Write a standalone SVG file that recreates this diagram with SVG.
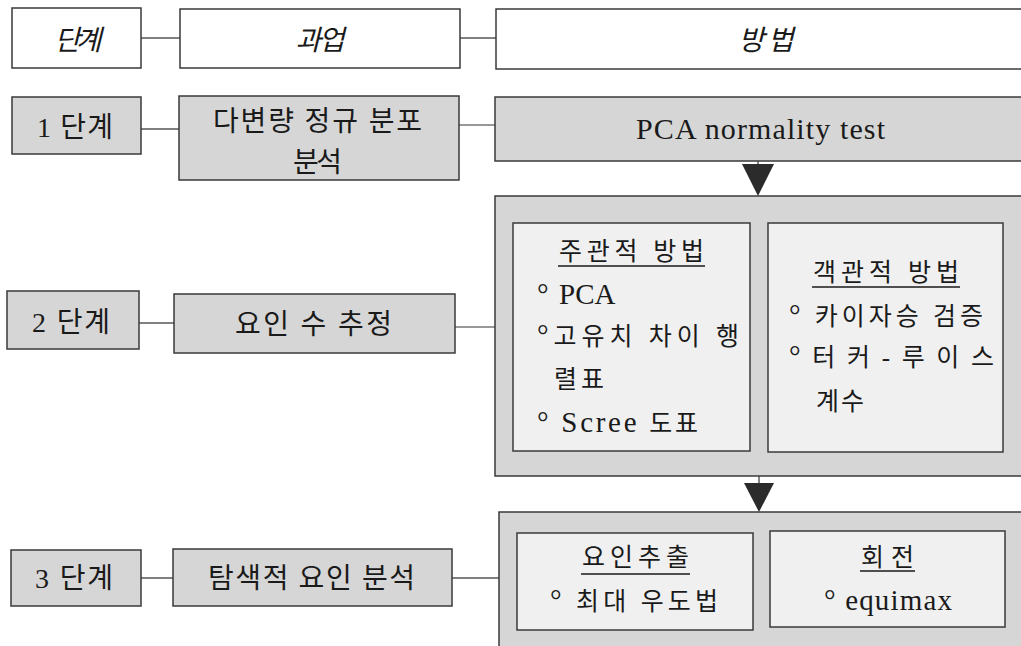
<svg xmlns="http://www.w3.org/2000/svg" width="1021" height="646" viewBox="0 0 1021 646">
<style>
.hdr{fill:#ffffff;stroke:#3a3a3a;stroke-width:1.5}
.box{fill:#d6d6d6;stroke:#3a3a3a;stroke-width:1.5}
.inner{fill:#f0f0f0;stroke:#3a3a3a;stroke-width:1.5}
.t{font-family:"Liberation Serif","Noto Sans CJK KR",serif;fill:#1a1a1a}
.hi{font-size:28px;font-style:italic;text-anchor:middle}
.lc{font-size:28px}
.in{font-size:25px}
.lat{font-size:29px}
.ul{stroke:#1a1a1a;stroke-width:1.3}
.cg{stroke:#808080;stroke-width:2;fill:none}
.cd{stroke:#333333;stroke-width:1.2;fill:none}
.arr{fill:#2b2b2b}
</style>
<g id="connectors">
<line class="cg" x1="141" y1="38" x2="180" y2="38"/>
<line class="cg" x1="460" y1="38" x2="496" y2="38"/>
<line class="cg" x1="141" y1="129" x2="179" y2="129"/>
<line class="cd" x1="459" y1="125" x2="495" y2="125"/>
<line class="cg" x1="139" y1="323" x2="174" y2="323"/>
<line class="cd" x1="455" y1="327" x2="495" y2="327"/>
<line class="cg" x1="141" y1="578" x2="173" y2="578"/>
<line class="cg" x1="452" y1="578" x2="499" y2="578"/>
<line class="cd" x1="758" y1="161" x2="758" y2="165"/>
<polygon class="arr" points="742,164 774,164 758,196"/>
<line class="cd" x1="759" y1="476" x2="759" y2="484"/>
<polygon class="arr" points="744,483 774,483 759,512"/>
</g>
<g id="hdr-step">
<rect class="hdr" x="12" y="8" width="129" height="60"/>
<text class="t hi" x="78" y="50" textLength="47">단계</text>
</g>
<g id="hdr-task">
<rect class="hdr" x="180" y="9" width="280" height="59"/>
<text class="t hi" x="320" y="50" textLength="49">과업</text>
</g>
<g id="hdr-method">
<rect class="hdr" x="496" y="9" width="540" height="60"/>
<text class="t hi" x="766" y="50" textLength="55">방법</text>
</g>
<g id="step1">
<rect class="box" x="12" y="97" width="129" height="57"/>
<text class="t lc" x="37" y="137" textLength="76">1 단계</text>
</g>
<g id="task1">
<rect class="box" x="179" y="96" width="280" height="84"/>
<text class="t lc" x="213" y="131" textLength="209">다변량 정규 분포</text>
<text class="t lc" x="293" y="172" textLength="49">분석</text>
</g>
<g id="method1">
<rect class="box" x="495" y="97" width="540" height="64"/>
<text class="t" x="636" y="139" font-size="30" textLength="249">PCA normality test</text>
</g>
<g id="step2">
<rect class="box" x="7" y="291" width="132" height="58"/>
<text class="t lc" x="32" y="332" textLength="78">2 단계</text>
</g>
<g id="task2">
<rect class="box" x="174" y="294" width="281" height="59"/>
<text class="t lc" x="235" y="334" textLength="157">요인 수 추정</text>
</g>
<g id="method2">
<rect class="box" x="495" y="196" width="540" height="280"/>
<rect class="inner" x="513" y="223" width="237" height="228"/>
<text class="t in" x="559" y="260" textLength="145">주관적 방법</text>
<line class="ul" x1="558" y1="266" x2="705" y2="266"/>
<text class="t lat" x="537" y="304">° <tspan x="559">PCA</tspan></text>
<text class="t in" x="537" y="345" textLength="202"><tspan class="lat">°</tspan>고유치 차이 행</text>
<text class="t in" x="554" y="388" textLength="50">렬표</text>
<text class="t lat" x="537" y="432" textLength="161">° Scree <tspan class="in">도표</tspan></text>
<rect class="inner" x="768" y="223" width="235" height="229"/>
<text class="t in" x="813" y="281" textLength="146">객관적 방법</text>
<line class="ul" x1="812" y1="287" x2="960" y2="287"/>
<text class="t in" x="789" y="325" textLength="194"><tspan class="lat">°</tspan> 카이자승 검증</text>
<text class="t in" x="789" y="366" textLength="205"><tspan class="lat">°</tspan> 터 커 - 루 이 스</text>
<text class="t in" x="816" y="410" textLength="48">계수</text>
</g>
<g id="step3">
<rect class="box" x="11" y="550" width="130" height="56"/>
<text class="t lc" x="35" y="588" textLength="78">3 단계</text>
</g>
<g id="task3">
<rect class="box" x="173" y="549" width="279" height="57"/>
<text class="t lc" x="208" y="588" textLength="207">탐색적 요인 분석</text>
</g>
<g id="method3">
<rect class="box" x="499" y="512" width="540" height="150"/>
<rect class="inner" x="517" y="533" width="236" height="97"/>
<text class="t in" x="582" y="566" textLength="107">요인추출</text>
<line class="ul" x1="581" y1="574" x2="690" y2="574"/>
<text class="t in" x="550" y="610" textLength="168"><tspan class="lat">°</tspan> 최대 우도법</text>
<rect class="inner" x="770" y="531" width="235" height="96"/>
<text class="t in" x="861" y="566" textLength="53">회전</text>
<line class="ul" x1="860" y1="571" x2="915" y2="571"/>
<text class="t lat" x="824" y="610" textLength="128">° equimax</text>
</g>
</svg>
